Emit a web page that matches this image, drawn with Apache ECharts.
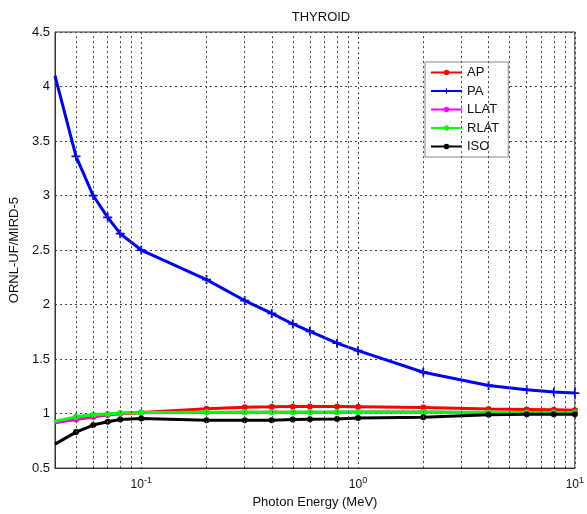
<!DOCTYPE html>
<html>
<head>
<meta charset="utf-8">
<script src="https://cdn.jsdelivr.net/npm/echarts@6/dist/echarts.min.js"></script>
<style>html,body{margin:0;padding:0;background:#fff;}#c{width:587px;height:514px;}</style>
</head>
<body>
<div id="c"></div>
<script>
const energies = [0.04, 0.05, 0.06, 0.07, 0.08, 0.1, 0.2, 0.3, 0.4, 0.5, 0.6, 0.8, 1, 2, 4, 6, 8, 10];
const apValues   = [0.92, 0.945, 0.97, 0.99, 1.0, 1.01, 1.045, 1.058, 1.062, 1.066, 1.066, 1.064, 1.062, 1.055, 1.042, 1.038, 1.035, 1.03];
const paValues   = [4.10, 3.36, 3.00, 2.80, 2.65, 2.50, 2.229, 2.037, 1.919, 1.822, 1.755, 1.646, 1.577, 1.379, 1.258, 1.218, 1.197, 1.188];
const llatValues = [0.915, 0.95, 0.975, 0.99, 1.0, 1.008, 1.01, 1.012, 1.012, 1.012, 1.012, 1.013, 1.014, 1.014, 1.01, 1.01, 1.01, 1.01];
const rlatValues = [0.93, 0.97, 0.99, 0.997, 1.005, 1.01, 1.012, 1.013, 1.013, 1.013, 1.013, 1.014, 1.015, 1.015, 1.01, 1.01, 1.01, 1.01];
const isoValues  = [0.72, 0.83, 0.895, 0.925, 0.945, 0.955, 0.94, 0.94, 0.94, 0.945, 0.948, 0.95, 0.96, 0.967, 0.99, 0.995, 0.995, 0.995];
const seriesNames = ['AP', 'PA', 'LLAT', 'RLAT', 'ISO'];
const seriesColors = ['#ff0000', '#0000ff', '#ff00ff', '#00ff00', '#000000'];
const minorGridX = [0.05, 0.06, 0.07, 0.08, 0.09, 0.2, 0.3, 0.4, 0.5, 0.6, 0.7, 0.8, 0.9, 2, 3, 4, 5, 6, 7, 8, 9];
const yMin = 0.5, yMax = 4.5, yStep = 0.5;
const xMin = 0.04, xMax = 10;

const FONT = "'Liberation Sans', Arial, sans-serif";
const gridLine = { color: '#444', width: 1, type: [2, 3] };
const plusPath = 'path://M4,0 L6,0 L6,4 L10,4 L10,6 L6,6 L6,10 L4,10 L4,6 L0,6 L0,4 L4,4 Z';
const symbols = ['circle', plusPath, 'circle', 'circle', 'circle'];
const symbolSizes = [6, 9, 6, 6, 6];
const allValues = [apValues, paValues, llatValues, rlatValues, isoValues];

function pairs(vals) {
  return energies.map((e, i) => i === 0 ? { value: [e, vals[i]], symbolSize: 0 } : { value: [e, vals[i]] });
}

const series = [{
  name: '_grid', type: 'line', data: [], silent: true,
  markLine: {
    silent: true, symbol: 'none', label: { show: false },
    lineStyle: gridLine, animation: false,
    data: minorGridX.map(v => ({ xAxis: v }))
  }
}];
seriesNames.forEach((n, k) => {
  series.push({
    name: n, type: 'line', data: pairs(allValues[k]),
    color: seriesColors[k],
    symbol: symbols[k], symbolSize: symbolSizes[k],
    lineStyle: { width: 3, color: seriesColors[k] },
    itemStyle: { color: seriesColors[k] },
    clip: true, animation: false
  });
});

const chart = echarts.init(document.getElementById('c'), null, { renderer: 'canvas' });
chart.setOption({
  backgroundColor: '#fff',
  animation: false,
  textStyle: { fontFamily: FONT },
  title: {
    text: 'THYROID', left: 316, top: 6, textAlign: 'center',
    textStyle: { fontFamily: FONT, fontSize: 13, fontWeight: 'normal', color: '#111' }
  },
  grid: { left: 55, right: 9, top: 32, bottom: 42.5, show: true, borderColor: '#333', borderWidth: 1, backgroundColor: 'transparent' },
  legend: {
    data: seriesNames, orient: 'vertical', left: 425, top: 62,
    backgroundColor: '#fff', borderColor: '#888', borderWidth: 1,
    padding: [4, 9, 4, 5], itemWidth: 31, itemHeight: 7, itemGap: 5.5,
    textStyle: { fontFamily: FONT, fontSize: 13, lineHeight: 13, color: '#111' }
  },
  xAxis: {
    type: 'log', logBase: 10, min: xMin, max: xMax,
    name: 'Photon Energy (MeV)', nameLocation: 'middle', nameGap: 25,
    nameTextStyle: { fontFamily: FONT, fontSize: 13, color: '#111' },
    axisLine: { show: true, lineStyle: { color: '#333' } },
    axisTick: { show: false },
    splitLine: { show: true, lineStyle: gridLine },
    axisLabel: {
      margin: 8, color: '#111',
      formatter: function (v) {
        const e = Math.round(Math.log10(v));
        if (Math.abs(v / Math.pow(10, e) - 1) < 1e-6) return '{b|10}{s|' + e + '}';
        return '';
      },
      rich: {
        b: { fontFamily: FONT, fontSize: 12, color: '#111' },
        s: { fontFamily: FONT, fontSize: 9, color: '#111', padding: [0, 0, 9, 0] }
      }
    }
  },
  yAxis: {
    type: 'value', min: yMin, max: yMax, interval: yStep,
    name: 'ORNL-UF/MIRD-5', nameLocation: 'middle', nameGap: 31,
    nameTextStyle: { fontFamily: FONT, fontSize: 13, color: '#111' },
    axisLine: { show: true, lineStyle: { color: '#333' } },
    axisTick: { show: false },
    splitLine: { show: true, lineStyle: gridLine },
    axisLabel: { margin: 5, fontFamily: FONT, fontSize: 13, color: '#111' }
  },
  series: series
});
</script>
</body>
</html>
